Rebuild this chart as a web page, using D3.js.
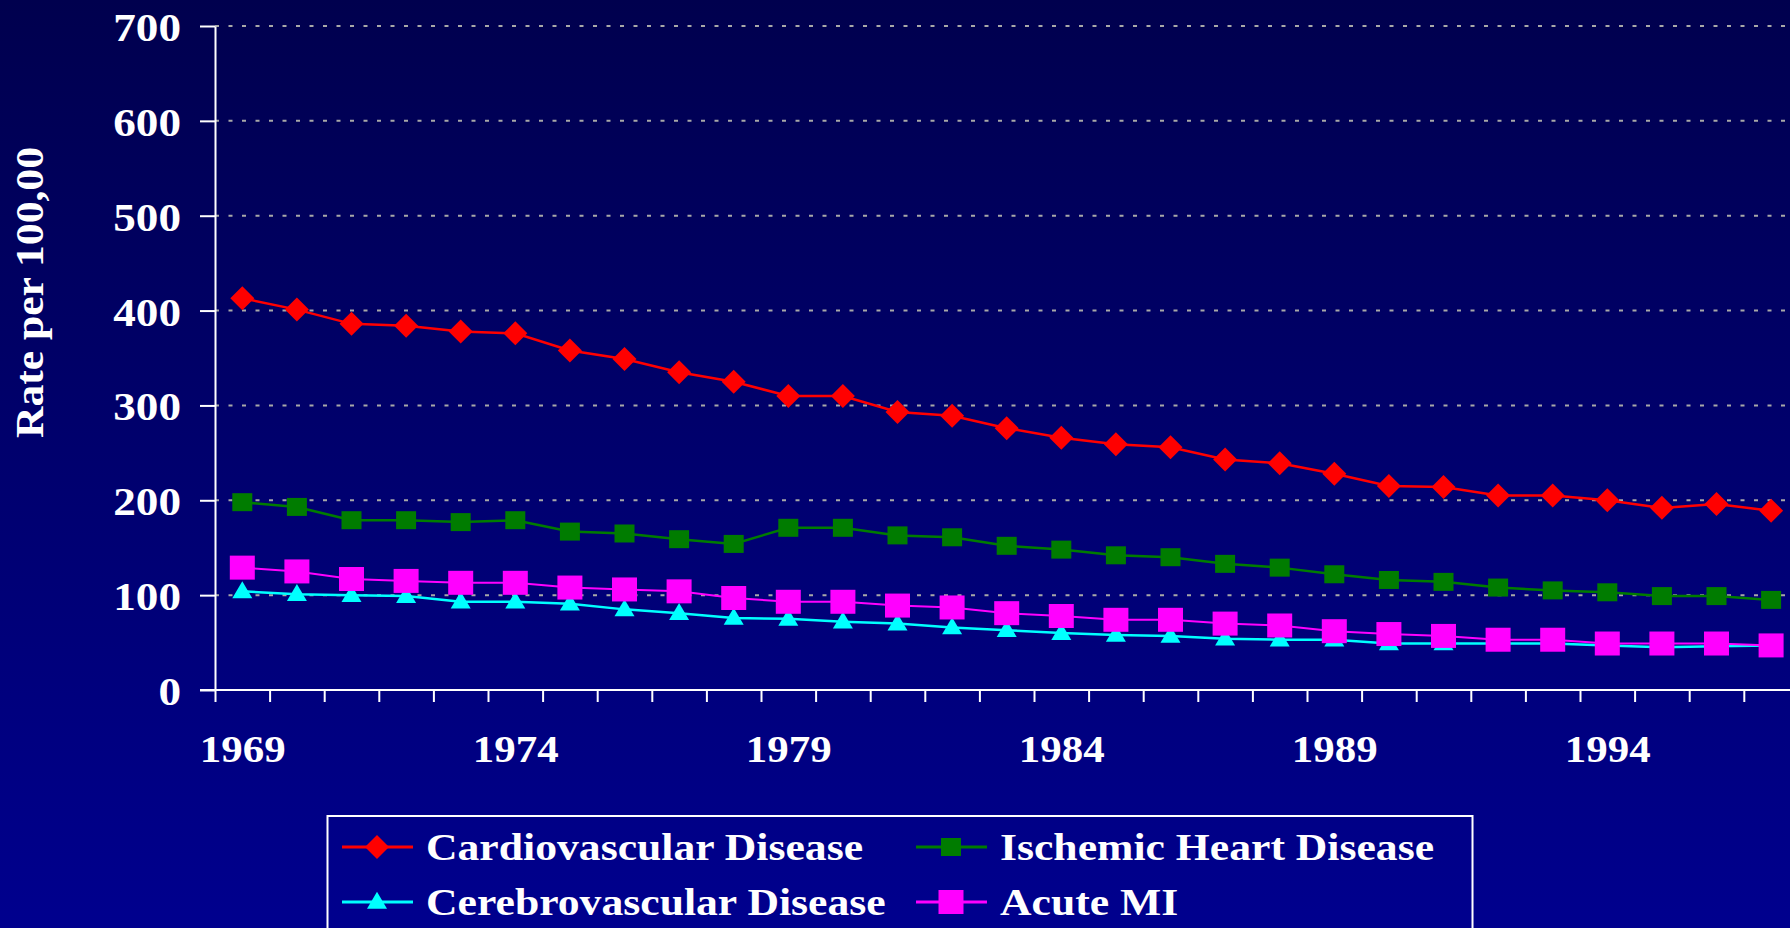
<!DOCTYPE html>
<html>
<head>
<meta charset="utf-8">
<script src="https://cdn.jsdelivr.net/npm/d3@7"></script>
<style>
  html, body { margin: 0; padding: 0; background: #000070; }
  svg { display: block; }
  text { font-family: "Liberation Serif", "Times New Roman", serif; font-weight: bold; fill: #ffffff; }
</style>
</head>
<body>
<svg id="chart" width="1790" height="928"></svg>
<script>
// ---------- data ----------
const years = d3.range(1969, 1998);
const yTickValues = [0, 100, 200, 300, 400, 500, 600, 700];
const xLabelYears = [1969, 1974, 1979, 1984, 1989, 1994];
const seriesNames = ["Cardiovascular Disease", "Ischemic Heart Disease", "Cerebrovascular Disease", "Acute MI"];
const cardiovascular = [413, 401, 386, 384, 378, 376, 358, 349, 335, 325, 310, 310, 293, 289, 276, 266, 259, 256, 243, 239, 228, 215, 214, 205, 205, 200, 192, 196, 189];
const ischemic = [198, 193, 179, 179, 177, 179, 167, 165, 159, 154, 171, 171, 163, 161, 152, 148, 142, 140, 133, 129, 122, 116, 114, 108, 105, 103, 99, 99, 95];
const cerebrovascular = [104, 101, 100, 99, 93, 93, 91, 85, 81, 76, 75, 72, 70, 66, 63, 60, 58, 57, 54, 53, 53, 49, 49, 49, 49, 47, 45, 46, 47];
const acuteMI = [129, 125, 117, 115, 113, 113, 108, 106, 104, 97, 93, 93, 89, 87, 81, 78, 74, 74, 70, 68, 62, 59, 57, 53, 53, 49, 49, 49, 47];
const yTitle = "Rate per 100,00";

// ---------- setup ----------
const svg = d3.select("#chart");
const W = 1790, H = 928;
const SX = 1.13; // horizontal stretch of the original text

const defs = svg.append("defs");
const grad = defs.append("linearGradient").attr("id", "bg").attr("x1", 0).attr("y1", 0).attr("x2", 0).attr("y2", 1);
grad.append("stop").attr("offset", "0%").attr("stop-color", "#00004e");
grad.append("stop").attr("offset", "100%").attr("stop-color", "#00008e");
svg.append("rect").attr("width", W).attr("height", H).attr("fill", "url(#bg)");

const x0 = 215, plotTop = 26, plotBottom = 690;
const x = d3.scaleLinear().domain([1968.5, 1997.5]).range([x0, x0 + 54.6 * 29]);
const y = d3.scaleLinear().domain([0, 700]).range([plotBottom, plotTop]);

// gridlines
svg.append("g").selectAll("line").data(yTickValues.filter(v => v > 0)).join("line")
  .attr("x1", x0).attr("x2", W)
  .attr("y1", d => y(d)).attr("y2", d => y(d))
  .attr("stroke", "#a8a8a8").attr("stroke-width", 2).attr("stroke-dasharray", "4,9.5");

// y axis
const yAxis = svg.append("g").attr("transform", `translate(${x0},0)`)
  .call(d3.axisLeft(y).tickValues(yTickValues).tickSize(15).tickSizeOuter(0));
yAxis.select(".domain").attr("stroke", "#fff").attr("stroke-width", 2);
yAxis.selectAll(".tick line").attr("stroke", "#fff").attr("stroke-width", 2);
yAxis.selectAll(".tick text")
  .attr("x", 0).attr("dy", null).attr("y", 0)
  .attr("transform", `translate(-34,14.5) scale(${SX},1)`)
  .style("font-size", "40px").attr("fill", "#fff")
  .attr("font-family", null);

// x axis ticks (category boundaries)
const xAxis = svg.append("g").attr("transform", `translate(0,${plotBottom})`)
  .call(d3.axisBottom(x).tickValues(d3.range(1968.5, 1998, 1)).tickSize(12).tickSizeOuter(0).tickFormat(""));
xAxis.select(".domain").attr("stroke", "#fff").attr("stroke-width", 2).attr("d", `M${x0 - 15},0H${W + 20}`);
xAxis.selectAll(".tick line").attr("stroke", "#fff").attr("stroke-width", 2);

// x labels
const xLab = svg.append("g").attr("transform", `translate(0,${plotBottom})`)
  .call(d3.axisBottom(x).tickValues(xLabelYears).tickSize(0).tickFormat(d3.format("d")));
xLab.select(".domain").remove();
xLab.selectAll(".tick text")
  .attr("y", 0).attr("dy", null)
  .attr("transform", `translate(0,72) scale(${SX},1)`)
  .style("font-size", "38px").attr("fill", "#fff")
  .attr("font-family", null);

// y title
svg.append("text")
  .attr("transform", `translate(43,${438}) rotate(-90) scale(1.09,1)`)
  .attr("text-anchor", "start")
  .style("font-size", "40px")
  .text(yTitle);

// ---------- series ----------
const diamondPath = (s) => `M0,${-s}L${s},0L0,${s}L${-s},0Z`;
const rectPath = (w, h) => `M${-w/2},${-h/2}h${w}v${h}h${-w}Z`;
const triPath = (w, h) => `M0,${-h*0.6}L${w/2},${h*0.4}L${-w/2},${h*0.4}Z`;

const series = [
  { name: seriesNames[0], values: cardiovascular, color: "#ff0000", width: 2.5, marker: diamondPath(12) },
  { name: seriesNames[1], values: ischemic, color: "#007c00", width: 2.5, marker: rectPath(20, 18) },
  { name: seriesNames[2], values: cerebrovascular, color: "#00ffff", width: 2.5, marker: triPath(20, 17) },
  { name: seriesNames[3], values: acuteMI, color: "#ff00ff", width: 2, marker: rectPath(25, 24) }
];

const line = d3.line().x((d, i) => x(years[i])).y(d => y(d));

series.forEach(s => {
  const g = svg.append("g");
  g.append("path").attr("d", line(s.values)).attr("fill", "none")
    .attr("stroke", s.color).attr("stroke-width", s.width);
  g.selectAll("path.m").data(s.values).join("path").attr("class", "m")
    .attr("transform", (d, i) => `translate(${x(years[i])},${y(d)})`)
    .attr("d", s.marker).attr("fill", s.color);
});

// ---------- legend ----------
const legend = svg.append("g");
legend.append("rect").attr("x", 327.5).attr("y", 816).attr("width", 1145).attr("height", 160)
  .attr("fill", "none").attr("stroke", "#fff").attr("stroke-width", 2);

const legPos = [
  { lx: 342, ty: 847 }, { lx: 916, ty: 847 },
  { lx: 342, ty: 902 }, { lx: 916, ty: 902 }
];
series.forEach((s, i) => {
  const p = legPos[i];
  const g = legend.append("g").attr("transform", `translate(${p.lx},${p.ty})`);
  g.append("line").attr("x1", 0).attr("x2", 71).attr("y1", 0).attr("y2", 0)
    .attr("stroke", s.color).attr("stroke-width", 3);
  g.append("path").attr("transform", "translate(35,0)").attr("d", s.marker).attr("fill", s.color);
  g.append("text").attr("transform", `translate(84,13) scale(1.12,1)`)
    .style("font-size", "39px").text(s.name);
});
</script>
</body>
</html>
